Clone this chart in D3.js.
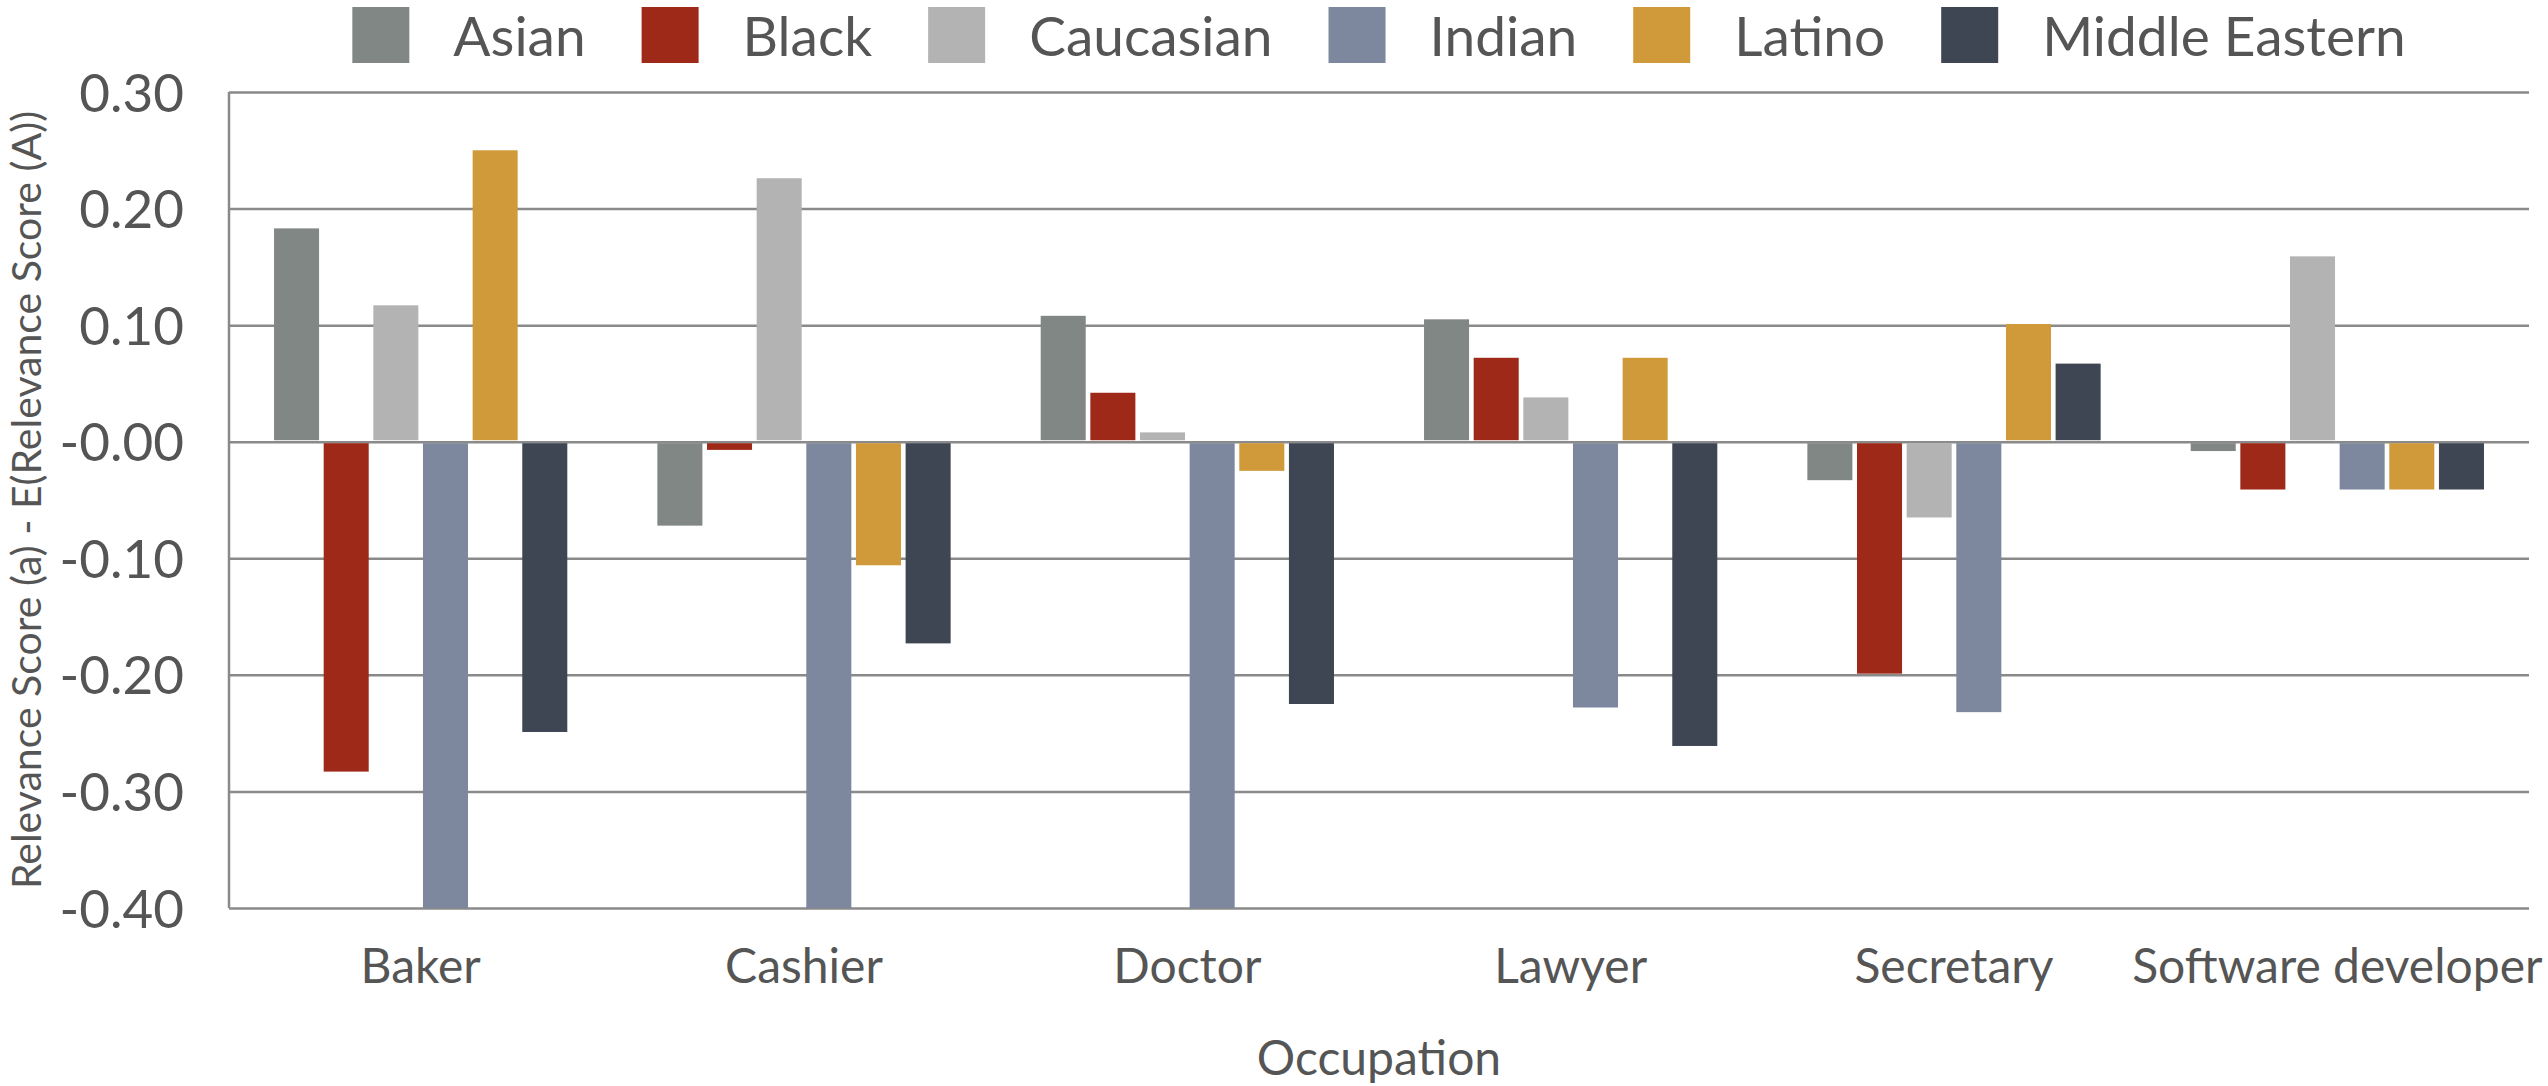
<!DOCTYPE html>
<html>
<head>
<meta charset="utf-8">
<script src="https://cdn.jsdelivr.net/npm/d3@7"></script>
<style>
  html, body { margin: 0; padding: 0; background: #ffffff; }
  svg { display: block; }
  text { font-family: Lato, "Open Sans", sans-serif; fill: #555555; }
</style>
</head>
<body>
<svg id="chart" width="2548" height="1086"></svg>
<script>
const categories = ["Baker", "Cashier", "Doctor", "Lawyer", "Secretary", "Software developer"];
const series = ["Asian", "Black", "Caucasian", "Indian", "Latino", "Middle Eastern"];
const colors = ["#818784", "#9e2919", "#b3b3b3", "#7d889f", "#d09a3a", "#3e4553"];

const asian         = [0.183, -0.072, 0.108, 0.105, -0.033, -0.008];
const black         = [-0.283, -0.007, 0.042, 0.072, -0.199, -0.041];
const caucasian     = [0.117, 0.226, 0.008, 0.038, -0.065, 0.159];
const indian        = [-0.400, -0.400, -0.400, -0.228, -0.232, -0.041];
const latino        = [0.250, -0.106, -0.025, 0.072, 0.101, -0.041];
const middleEastern = [-0.249, -0.173, -0.225, -0.261, 0.067, -0.041];
const seriesValues = [asian, black, caucasian, indian, latino, middleEastern];

const tickValues = [0.30, 0.20, 0.10, 0.00, -0.10, -0.20, -0.30, -0.40];
const tickLabels = ["0.30", "0.20", "0.10", "-0.00", "-0.10", "-0.20", "-0.30", "-0.40"];

const yTitle = "Relevance Score (a) - E(Relevance Score (A))";
const xTitle = "Occupation";

const svg = d3.select("#chart");
const margin = { left: 229, right: 19, top: 92, bottom: 178 };
const W = 2548, H = 1086;
const plotL = margin.left, plotR = W - margin.right;
const plotT = margin.top, plotB = H - margin.bottom;

const x0 = d3.scaleBand().domain(categories).range([plotL, plotR]).paddingInner(0).paddingOuter(0);
const x1 = d3.scaleBand().domain(series).range([0, x0.bandwidth()]).paddingInner(0.093).paddingOuter(0.907);
const y = d3.scaleLinear().domain([-0.40, 0.30]).range([plotB, plotT]);
const color = d3.scaleOrdinal().domain(series).range(colors);

const gridColor = "#8a8a8a";

// Gridlines
const grid = svg.append("g")
  .attr("transform", `translate(${plotL},0)`)
  .call(d3.axisLeft(y).tickValues(tickValues).tickSize(-(plotR - plotL)).tickFormat(""));
grid.select(".domain").remove();
grid.selectAll(".tick line").attr("stroke", gridColor).attr("stroke-width", 2.5);

// Left axis line
svg.append("line")
  .attr("x1", plotL).attr("x2", plotL)
  .attr("y1", y(0.30)).attr("y2", y(-0.40))
  .attr("stroke", gridColor).attr("stroke-width", 2.5);

// Y tick labels
const yAxis = svg.append("g")
  .attr("transform", `translate(${plotL},0)`)
  .call(d3.axisLeft(y).tickValues(tickValues).tickSize(0).tickPadding(45)
        .tickFormat((d, i) => tickLabels[i]));
yAxis.select(".domain").remove();
yAxis.selectAll("text")
  .attr("font-family", "Lato, sans-serif")
  .attr("font-size", 53)
  .attr("fill", "#555555")
  .attr("dy", "0.36em");

// Bars
const rows = categories.map((c, ci) => ({
  cat: c,
  vals: series.map((s, si) => ({ s, v: seriesValues[si][ci] }))
}));

svg.append("g")
  .selectAll("g")
  .data(rows)
  .join("g")
  .attr("transform", d => `translate(${x0(d.cat)},0)`)
  .selectAll("rect")
  .data(d => d.vals)
  .join("rect")
  .attr("x", d => x1(d.s))
  .attr("width", x1.bandwidth())
  .attr("y", d => d.v >= 0 ? y(d.v) : y(0) + 1.5)
  .attr("height", d => d.v >= 0 ? Math.max(0, y(0) - 1.5 - y(d.v)) : Math.max(0, y(d.v) - y(0) - 1.5))
  .attr("fill", d => color(d.s));

// X axis labels
const xAxis = svg.append("g")
  .attr("transform", `translate(0,${plotB})`)
  .call(d3.axisBottom(x0).tickSize(0).tickPadding(0));
xAxis.select(".domain").remove();
xAxis.selectAll("text")
  .attr("font-family", "Lato, sans-serif")
  .attr("font-size", 48)
  .attr("fill", "#555555")
  .attr("y", 75)
  .attr("dy", 0);

// Axis titles
svg.append("text")
  .attr("transform", `translate(41,${(plotT + plotB) / 2}) rotate(-90)`)
  .attr("text-anchor", "middle")
  .attr("font-size", 41)
  .text(yTitle);

svg.append("text")
  .attr("x", (plotL + plotR) / 2)
  .attr("y", 1075)
  .attr("text-anchor", "middle")
  .attr("font-size", 48)
  .text(xTitle);

// Legend
const legend = svg.append("g");
const sq = 57, gapSqText = 44, gapItem = 56, legFont = 55;
let cursor = 0;
series.forEach(s => {
  const g = legend.append("g");
  g.append("rect").attr("x", 0).attr("y", 7).attr("width", sq).attr("height", 56).attr("fill", color(s));
  const t = g.append("text").attr("x", sq + gapSqText).attr("y", 56).attr("font-size", legFont).text(s);
  const tw = t.node().getComputedTextLength();
  g.attr("transform", `translate(${cursor},0)`);
  cursor += sq + gapSqText + tw + gapItem;
});
const totalW = cursor - gapItem;
legend.attr("transform", `translate(${(plotL + plotR) / 2 - totalW / 2},0)`);
</script>
</body>
</html>
